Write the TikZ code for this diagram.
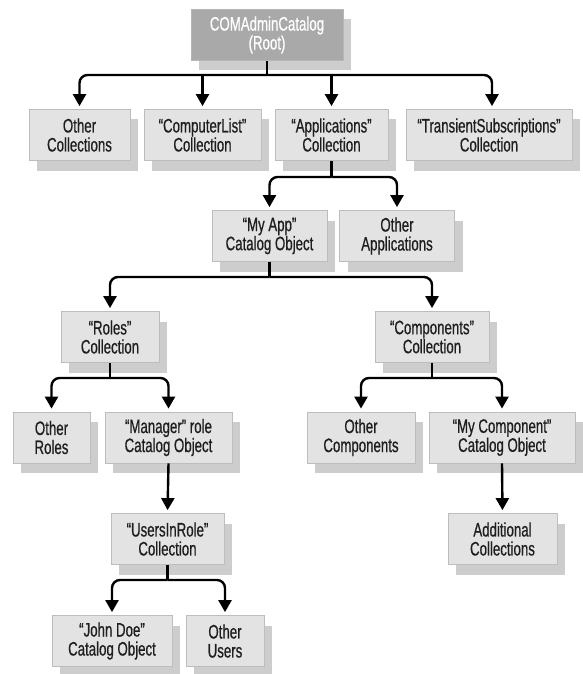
\documentclass[tikz,border=0pt]{standalone}
\usepackage{fontspec}
\setmainfont{Liberation Sans}[FakeStretch=0.68,FakeBold=0.6]
\usetikzlibrary{arrows.meta,shadows}
\definecolor{boxfill}{HTML}{E3E3E3}
\definecolor{boxline}{HTML}{BDBDBD}
\definecolor{shade}{HTML}{CDCDCD}
\definecolor{rootfill}{HTML}{A9A9A9}
\definecolor{ink}{HTML}{1E1E1E}
\tikzset{
  box/.style={draw=boxline, line width=0.8pt, fill=boxfill, align=center,
    inner sep=0pt, text=ink, minimum height=51pt,
    font=\fontsize{19.5pt}{19pt}\selectfont,
    drop shadow={shadow xshift=8pt, shadow yshift=-10pt, fill=shade, opacity=1}},
  rootbox/.style={box, fill=rootfill, draw=rootfill!85!white, text=white},
  link/.style={line width=2.4pt, draw=black},
  arrowlink/.style={link, rounded corners=8pt, shorten >=3pt,
    -{Triangle[width=13pt,length=12pt]}},
}
\begin{document}
\begin{tikzpicture}[x=1pt,y=-1pt]
\useasboundingbox (0,0) rectangle (582,674);

% tree nodes
\node[rootbox, minimum width=152pt] (root) at (267,35) {COMAdminCatalog\\(Root)};

\node[box, minimum width=101pt] (othcoll) at (79.5,135) {Other\\Collections};
\node[box, minimum width=117pt] (complist) at (202.5,135) {“ComputerList”\\Collection};
\node[box, minimum width=113pt] (apps) at (331.5,135) {“Applications”\\Collection};
\node[box, minimum width=166pt] (transient) at (489,135) {“TransientSubscriptions”\\Collection};

\node[box, minimum width=115pt] (myapp) at (269.5,236) {“My App”\\Catalog Object};
\node[box, minimum width=115pt] (othapps) at (397,236) {Other\\Applications};

\node[box, minimum width=98pt] (roles) at (110,337) {“Roles”\\Collection};
\node[box, minimum width=114pt] (comps) at (432,337) {“Components”\\Collection};

\node[box, minimum width=77pt] (othroles) at (51.5,437.5) {Other\\Roles};
\node[box, minimum width=127pt] (manager) at (168.5,437.5) {“Manager” role\\Catalog Object};
\node[box, minimum width=108pt] (othcomps) at (361,437.5) {Other\\Components};
\node[box, minimum width=146pt] (mycomp) at (502,437.5) {“My Component”\\Catalog Object};

\node[box, minimum width=113pt] (usersinrole) at (167.5,539) {“UsersInRole”\\Collection};
\node[box, minimum width=109pt] (addcoll) at (502.5,539) {Additional\\Collections};

\node[box, minimum width=120pt] (johndoe) at (112,641) {“John Doe”\\Catalog Object};
\node[box, minimum width=78pt] (othusers) at (225,641) {Other\\Users};

% branch points
\coordinate (b1) at (267,75);
\coordinate (b2) at (331.5,177);
\coordinate (b3) at (269.5,277);
\coordinate (b4) at (110,378);
\coordinate (b5) at (432,378);
\coordinate (b6) at (167.5,580);

% root level
\draw[link] (root.south) -- (b1);
\draw[arrowlink] (b1) -| (othcoll.north);
\draw[arrowlink] (complist.north |- b1) -- (complist.north);
\draw[arrowlink] (apps.north |- b1) -- (apps.north);
\draw[arrowlink] (b1) -| ([xshift=3pt]transient.north);

% applications
\draw[link] (apps.south) -- (b2);
\draw[arrowlink] (b2) -| (myapp.north);
\draw[arrowlink] (b2) -| (othapps.north);

% my app
\draw[link] (myapp.south) -- (b3);
\draw[arrowlink] (b3) -| (roles.north);
\draw[arrowlink] (b3) -| (comps.north);

% roles
\draw[link] (roles.south) -- (b4);
\draw[arrowlink] (b4) -| (othroles.north);
\draw[arrowlink] (b4) -| (manager.north);

% components
\draw[link] (comps.south) -- (b5);
\draw[arrowlink] (b5) -| (othcomps.north);
\draw[arrowlink] (b5) -| (mycomp.north);

% single descendants
\draw[arrowlink] (manager.south) -- (usersinrole.north);
\draw[arrowlink] (mycomp.south) -- (addcoll.north);

% users in role
\draw[link] (usersinrole.south) -- (b6);
\draw[arrowlink] (b6) -| (johndoe.north);
\draw[arrowlink] (b6) -| (othusers.north);
\end{tikzpicture}
\end{document}
